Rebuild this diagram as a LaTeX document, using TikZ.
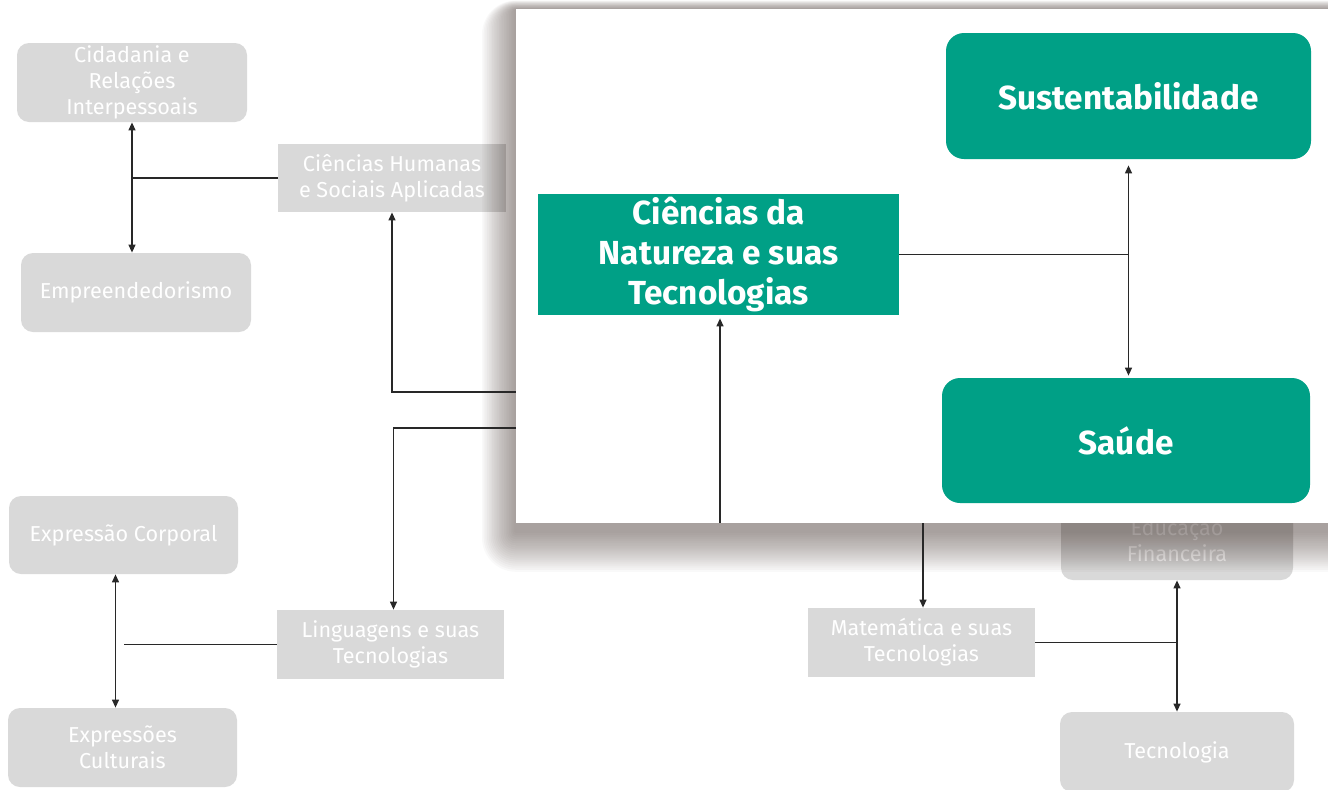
\documentclass[tikz,border=0pt]{standalone}
\usepackage{fontspec}
\setmainfont{Fira Sans}
\usetikzlibrary{arrows.meta}

\newdimen\px \px=0.75pt
\definecolor{greybox}{RGB}{217,217,217}
\definecolor{tealbox}{RGB}{0,160,134}
\definecolor{linec}{RGB}{40,40,40}
\definecolor{shadowc}{RGB}{70,55,50}

\tikzset{
  greyarea/.style = {fill=greybox, text=white, align=center, inner sep=0pt,
                     minimum width=230\px, minimum height=79\px,
                     font=\fontsize{16.2}{19.5}\selectfont},
  greyround/.style = {greyarea, rounded corners=12\px},
  tealarea/.style = {fill=tealbox, text=white, align=center, inner sep=0pt,
                     font=\fontsize{25}{30}\selectfont\bfseries},
  tealround/.style = {tealarea, rounded corners=18\px},
  link/.style = {draw=linec, line width=1.35pt},
  arrowto/.style = {link, -{Triangle[length=6pt,width=5pt]}},
  arrowboth/.style = {link, {Triangle[length=6pt,width=5pt]}-{Triangle[length=6pt,width=5pt]}},
}

\begin{document}
\begin{tikzpicture}[x=0.75pt, y=-0.75pt]
\useasboundingbox (0,0) rectangle (1328,789);

% background map
\node[greyround] (cid) at (132,82.5) {Cidadania e\\Relações\\Interpessoais};
\node[greyround] (emp) at (136,292.5) {Empreendedorismo};
\node[greyarea, minimum width=228\px, minimum height=68\px] (hum) at (392,178) {Ciências Humanas\\e Sociais Aplicadas};

\node[greyround, minimum width=229\px, minimum height=78\px] (expc) at (123.5,535) {Expressão Corporal};
\node[greyround, minimum width=229\px] (expr) at (122.5,747.5) {Expressões\\Culturais};
\node[greyarea, minimum width=227\px, minimum height=69\px] (lin) at (390.5,644.5) {Linguagens e suas\\Tecnologias};

\node[greyarea, minimum width=227\px, minimum height=69\px] (mat) at (921.5,642.5) {Matemática e suas\\Tecnologias};
\node[greyround, minimum width=232\px, minimum height=80\px] (edu) at (1177,540) {Educação\\Financeira};
\node[greyround, minimum width=234\px, minimum height=80\px] (tec) at (1177,752) {Tecnologia};

% hidden ends under the panel
\coordinate (hh) at (640,392);
\coordinate (hl) at (640,428);
\coordinate (hm) at (923,480);

\draw[arrowboth] (cid.south) -- (cid.south |- emp.north);
\draw[link] (hum.west) -- (hum.west -| cid.south);
\draw[arrowto] (hh) -| (hum.south);

\draw[arrowboth] ([xshift=-8\px]expc.south) -- ([xshift=-8\px]expc.south |- expr.north);
\draw[link] (lin.west) -- (lin.west -| expc.south);
\draw[arrowto] (hl) -| ([xshift=3\px]lin.north);

\draw[arrowto] (hm) -- ([xshift=1.5\px]mat.north);
\draw[arrowboth] (edu.south) -- (edu.south |- tec.north);
\draw[link] (mat.east) -- (mat.east -| edu.south);

% shadow of the zoomed panel
\foreach \i in {1,...,20}
{
  \pgfmathsetmacro{\s}{1.7*\i}
  \fill[shadowc, opacity=0.03, rounded corners=\s*0.75pt] (516-\s,9-0.25*\s) rectangle (1340+\s,531+1.2*\s);
}
\fill[white] (516,9) rectangle (1328,523);

% zoomed panel
\node[tealarea, minimum width=361\px, minimum height=121\px] (nat) at (718.5,254.5) {Ciências da\\Natureza e suas\\Tecnologias};
\node[tealround, minimum width=365\px, minimum height=126\px] (sus) at (1128.5,96) {Sustentabilidade};
\node[tealround, minimum width=368\px, minimum height=125\px] (sau) at (1126,440.5) {Saúde};
\coordinate (pb) at (720,523);

\draw[arrowboth, shorten <=6\px, shorten >=2\px] (sus.south) -- (sus.south |- sau.north);
\draw[link] (nat.east) -- (nat.east -| sus.south);
\draw[arrowto, shorten >=3\px] (pb) -- (pb |- nat.south);
\end{tikzpicture}
\end{document}
